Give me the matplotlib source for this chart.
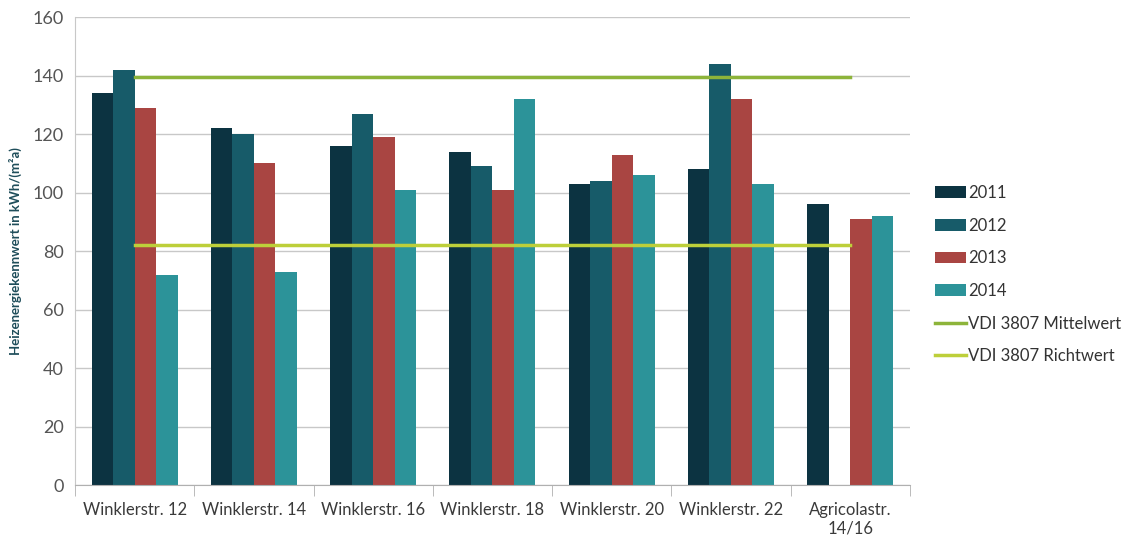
import numpy as np
import matplotlib.pyplot as plt

categories = ["Winklerstr. 12", "Winklerstr. 14", "Winklerstr. 16", "Winklerstr. 18",
              "Winklerstr. 20", "Winklerstr. 22", "Agricolastr.\n14/16"]
years = ["2011", "2012", "2013", "2014"]
v2011 = [134, 122, 116, 114, 103, 108, 96]
v2012 = [142, 120, 127, 109, 104, 144, np.nan]
v2013 = [129, 110, 119, 101, 113, 132, 91]
v2014 = [72, 73, 101, 132, 106, 103, 92]
mittelwert = 139.5
richtwert = 82

colors = ["#0c3341", "#175b69", "#a94542", "#2c9399"]
plt.rcParams['font.family'] = ['Lato', 'DejaVu Sans']

fig = plt.figure(figsize=(11.26, 5.38), dpi=100)
ax = fig.add_axes([0.0666, 0.0985, 0.7414, 0.8695])

x = np.arange(len(categories))
w = 0.18
series = [v2011, v2012, v2013, v2014]
for i, (vals, yr) in enumerate(zip(series, years)):
    ax.bar(x + (i - 1.5) * w, vals, w, color=colors[i], label=yr, zorder=2)

ax.plot([x[0], x[-1]], [mittelwert, mittelwert], color="#8db43a", lw=2.5,
        label="VDI 3807 Mittelwert", zorder=3)
ax.plot([x[0], x[-1]], [richtwert, richtwert], color="#bdcf3a", lw=2.5,
        label="VDI 3807 Richtwert", zorder=3)

ax.set_xlim(-0.5, len(categories) - 0.5)
ax.set_ylim(0, 160)
ax.set_yticks(range(0, 161, 20))
ax.yaxis.grid(True, color="#c8c8c8", lw=1)
ax.set_axisbelow(True)
for s in ["top", "right"]:
    ax.spines[s].set_visible(False)
ax.spines["left"].set_color("#c8c8c8")
ax.spines["bottom"].set_color("#b0b0b0")
ax.tick_params(axis="y", length=0, labelsize=13, labelcolor="#555555", pad=8)
ax.set_xticks(x)
ax.set_xticklabels(categories, fontsize=12, color="#3a3a3a")
ax.tick_params(axis="x", which="major", length=0, pad=12)
ax.set_xticks(np.arange(-0.5, len(categories), 1), minor=True)
ax.tick_params(axis="x", which="minor", length=8, color="#b0b0b0")
ax.set_ylabel("Heizenergiekennwert in kWh/(m²a)", fontsize=9.5, fontweight="bold",
              color="#1e4d5a", labelpad=8)

handles, labels = ax.get_legend_handles_labels()
order = [2, 3, 4, 5, 0, 1]
ax.legend([handles[i] for i in order], [labels[i] for i in order],
          loc="center left", bbox_to_anchor=(1.012, 0.45), frameon=False,
          fontsize=12, handlelength=1.85, labelspacing=1.0, handletextpad=0.15,
          labelcolor="#333333")

fig.savefig("out.png", dpi=100)
